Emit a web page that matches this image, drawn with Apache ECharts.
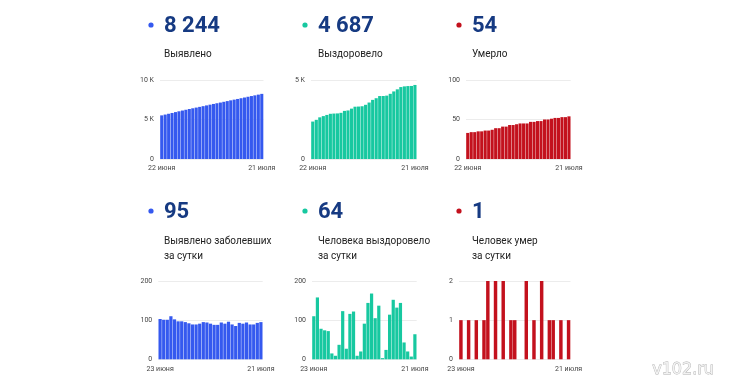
<!DOCTYPE html>
<html>
<head>
<meta charset="utf-8">
<script src="https://cdn.jsdelivr.net/npm/echarts@6/dist/echarts.min.js"></script>
<style>
html,body{margin:0;padding:0;background:#fff;}
#c{width:730px;height:380px;}
</style>
</head>
<body>
<div id="c"></div>
<script>
// ---- data ----
var datesCumulative = ['22 июня','23 июня','24 июня','25 июня','26 июня','27 июня','28 июня','29 июня','30 июня',
  '1 июля','2 июля','3 июля','4 июля','5 июля','6 июля','7 июля','8 июля','9 июля','10 июля',
  '11 июля','12 июля','13 июля','14 июля','15 июля','16 июля','17 июля','18 июля','19 июля','20 июля','21 июля'];
var datesDaily = ['23 июня','24 июня','25 июня','26 июня','27 июня','28 июня','29 июня','30 июня',
  '1 июля','2 июля','3 июля','4 июля','5 июля','6 июля','7 июля','8 июля','9 июля','10 июля',
  '11 июля','12 июля','13 июля','14 июля','15 июля','16 июля','17 июля','18 июля','19 июля','20 июля','21 июля'];

var casesTotal = [5522,5625,5726,5827,5937,6039,6136,6233,6328,6420,6509,6598,6689,6784,6878,6969,7057,7145,7239,7330,7426,7515,7600,7693,7784,7878,7967,8056,8149,8244];
var recoveredTotal = [2369,2479,2637,2715,2789,2861,2876,2885,2922,3045,3072,3188,3310,3319,3339,3430,3574,3742,3847,3984,3987,4011,4125,4277,4409,4553,4596,4616,4623,4687];
var deathsTotal = [33,34,34,35,35,36,36,37,39,39,41,41,43,43,44,45,45,45,47,47,48,48,50,50,51,52,52,53,53,54];

var casesDaily = [103,101,101,110,102,97,97,95,92,89,89,91,95,94,91,88,88,94,91,96,89,85,93,91,94,89,89,93,95];
var recoveredDaily = [110,158,78,74,72,15,9,37,123,27,116,122,9,20,91,144,168,105,137,3,24,114,152,132,144,43,20,7,64];
var deathsDaily = [1,0,1,0,1,0,1,2,0,2,0,2,0,1,1,0,0,2,0,1,0,2,0,1,1,0,1,0,1];

var headerNumbers = ['8 244','4 687','54','95','64','1'];
var headerLabels = ['Выявлено','Выздоровело','Умерло','Выявлено заболевших\nза сутки','Человека выздоровело\nза сутки','Человек умер\nза сутки'];

var yMax = [10000, 5000, 100, 200, 200, 2];
var yInterval = [5000, 5000, 50, 100, 100, 1];

// ---- layout / style ----
var BLUE = '#3559ef', TEAL = '#17c8a0', RED = '#c3111d';
var colors = [BLUE, TEAL, RED, BLUE, TEAL, RED];
var grids = [
  {left:160, width:103.5, top:80, height:79},
  {left:311, width:105.7, top:80, height:79},
  {left:466, width:104.7, top:80, height:79},
  {left:158.3, width:104.4, top:281, height:78.3},
  {left:312, width:104.7, top:281, height:78.3},
  {left:459, width:111.5, top:281, height:78.3}
];
var colX = [164, 318, 472];
var dotX = [151, 305, 459];

var seriesData = [casesTotal, recoveredTotal, deathsTotal, casesDaily, recoveredDaily, deathsDaily];
var seriesCats = [datesCumulative, datesCumulative, datesCumulative, datesDaily, datesDaily, datesDaily];

var xAxes = [], yAxes = [], series = [], graphics = [];
for (var i = 0; i < 6; i++) {
  (function(i){
    var n = seriesCats[i].length;
    xAxes.push({
      type:'category', gridIndex:i, data:seriesCats[i],
      axisLine:{show:false}, axisTick:{show:false},
      axisLabel:{
        interval:function(idx){ return idx===0 || idx===n-1; },
        fontSize:7, color:'#444', margin:6, fontFamily:'Roboto'
      }
    });
    yAxes.push({
      type:'value', gridIndex:i, min:0, max:yMax[i], interval:yInterval[i],
      axisLine:{show:false}, axisTick:{show:false},
      splitLine:{lineStyle:{color:'#ececec', width:1}},
      axisLabel:{
        fontSize:7, color:'#444', margin:6, fontFamily:'Roboto',
        formatter:function(v){
          if (i < 2) return v === 0 ? '0' : (v/1000) + ' K';
          return String(v);
        }
      }
    });
    series.push({
      type:'bar', xAxisIndex:i, yAxisIndex:i, data:seriesData[i],
      barCategoryGap: (i===5 ? '10%' : '11%'),
      itemStyle:{color:colors[i]},
      silent:true, animation:false
    });
    var row = i < 3 ? 0 : 1;
    var col = i % 3;
    var numY = row === 0 ? 25 : 211;
    var labY = row === 0 ? 52.7 : 239.5;
    graphics.push({type:'circle', shape:{cx:dotX[col], cy:numY, r:2.6}, style:{fill:colors[i]}});
    graphics.push({type:'text', x:colX[col], y:numY+1, style:{
      text:headerNumbers[i], fill:'#163a82', font:'bold 22px Roboto', verticalAlign:'middle', align:'left'}});
    graphics.push({type:'text', x:colX[col], y:labY-6, style:{
      text:headerLabels[i], fill:'#222', font:'10px Roboto', lineHeight:15.3, verticalAlign:'top', align:'left'}});
  })(i);
}
graphics.push({type:'text', x:714, y:370, style:{
  text:'v102.ru', fill:'#f2f2f2', stroke:'#b0b0b0', lineWidth:0.8,
  font:'16px "DejaVu Sans"', align:'right', verticalAlign:'middle'}});

var chart = echarts.init(document.getElementById('c'), null, {renderer:'canvas'});
chart.setOption({
  animation:false,
  backgroundColor:'#fff',
  grid:grids,
  xAxis:xAxes,
  yAxis:yAxes,
  series:series,
  graphic:graphics
});
</script>
</body>
</html>
